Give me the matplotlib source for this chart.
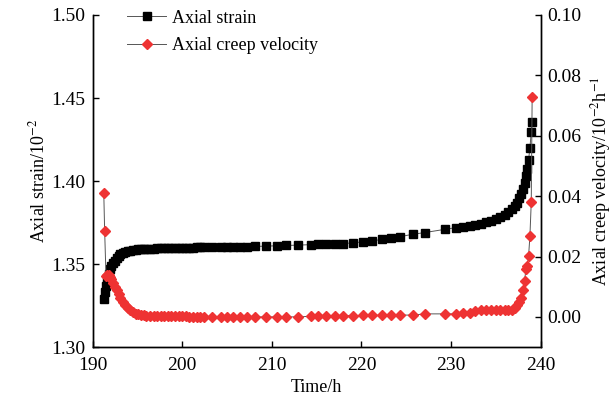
import matplotlib
matplotlib.use("Agg")
import matplotlib.pyplot as plt

plt.rcParams['font.family'] = ['Liberation Serif', 'DejaVu Serif']
plt.rcParams['mathtext.fontset'] = 'stix'

time_h = [191.25, 191.35, 191.5, 191.65, 191.8, 191.95, 192.1, 192.3, 192.5, 192.7,
          192.9, 193.1, 193.35, 193.6, 193.9, 194.2, 194.5, 194.8, 195.1, 195.4,
          195.7, 196.0, 196.4, 196.8, 197.2, 197.6, 198.0, 198.4, 198.8, 199.2,
          199.6, 200.0, 200.4, 200.8, 201.2, 201.6, 202.0, 202.4, 203.3, 204.3,
          205.0, 205.7, 206.4, 207.2, 208.1, 209.3, 210.6, 211.6, 212.9, 214.4,
          215.2, 216.1, 217.0, 217.9, 219.05, 220.2, 221.2, 222.3, 223.3, 224.3,
          225.7, 227.1, 229.3, 230.5, 231.3, 232.1, 232.7, 233.3, 233.9, 234.5,
          235.0, 235.5, 236.0, 236.4, 236.8, 237.1, 237.35, 237.6, 237.8, 238.0,
          238.2, 238.35, 238.5, 238.65, 238.8, 238.95, 239.05]

axial_strain = [1.3290, 1.3330, 1.3370, 1.3410, 1.3440, 1.3470, 1.3490, 1.3505, 1.3520, 1.3535,
                1.3548, 1.3558, 1.3566, 1.3572, 1.3577, 1.3581, 1.3584, 1.3586, 1.3588, 1.3589,
                1.3590, 1.3591, 1.3592, 1.3593, 1.3594, 1.3595, 1.3595, 1.3596, 1.3596, 1.3597,
                1.3597, 1.3598, 1.3598, 1.3599, 1.3599, 1.3600, 1.3600, 1.3600, 1.3601, 1.3602,
                1.3602, 1.3603, 1.3604, 1.3605, 1.3606, 1.3608, 1.3610, 1.3612, 1.3614, 1.3617,
                1.3619, 1.3620, 1.3621, 1.3623, 1.3628, 1.3634, 1.3639, 1.3649, 1.3655, 1.3665,
                1.3679, 1.3690, 1.3709, 1.3719, 1.3725, 1.3731, 1.3737, 1.3744, 1.3752, 1.3761,
                1.3772, 1.3783, 1.3798, 1.3812, 1.3830, 1.3850, 1.3870, 1.3895, 1.3922, 1.3955,
                1.3990, 1.4030, 1.4070, 1.4127, 1.4200, 1.4293, 1.4354]

creep_velocity = [0.0411, 0.0284, 0.0135, 0.0140, 0.0138, 0.0133, 0.0124, 0.0112, 0.0100, 0.0088,
                  0.0076, 0.0062, 0.0050, 0.0040, 0.0030, 0.0022, 0.0015, 0.0010, 0.0008, 0.0006,
                  0.0005, 0.0004, 0.0004, 0.0003, 0.0003, 0.0003, 0.0002, 0.0002, 0.0002, 0.0002,
                  0.0002, 0.0002, 0.0002, 0.0001, 0.0001, 0.0001, 0.0001, 0.0001, 0.0000, 0.0000,
                  0.0000, 0.0000, 0.0000, 0.0000, 0.0000, 0.0000, 0.0000, 0.0000, 0.0000, 0.0002,
                  0.0003, 0.0003, 0.0004, 0.0004, 0.0004, 0.0005, 0.0005, 0.0005, 0.0005, 0.0006,
                  0.0006, 0.0010, 0.0010, 0.0010, 0.0012, 0.0014, 0.0018, 0.0022, 0.0022, 0.0022,
                  0.0022, 0.0022, 0.0022, 0.0022, 0.0022, 0.0030, 0.0040, 0.0050, 0.0063, 0.0090,
                  0.0118, 0.0157, 0.0168, 0.0201, 0.0267, 0.0380, 0.0433, 0.0730]

creep_time_h = time_h[:-1] + [time_h[-1]]
creep_velocity = creep_velocity[:len(creep_time_h) - 1] + [creep_velocity[-1]]

fig = plt.figure(figsize=(6.13, 4.05), dpi=100)
ax = fig.add_axes([0.151, 0.143, 0.731, 0.820])
ax2 = ax.twinx()

l1, = ax.plot(time_h, axial_strain, color='#555555', lw=0.7, marker='s', ms=6,
              mfc='black', mec='black', label='Axial strain', zorder=3)
l2, = ax2.plot(creep_time_h, creep_velocity, color='#555555', lw=0.7, marker='D', ms=5.5,
               mfc='#ee3333', mec='#ee3333', label='Axial creep velocity', zorder=3)

ax.set_xlim(190, 240)
ax.set_ylim(1.30, 1.50)
ax2.set_ylim(-0.01, 0.10)
ax.set_xticks([190, 200, 210, 220, 230, 240])
ax.set_yticks([1.30, 1.35, 1.40, 1.45, 1.50])
ax.set_yticklabels(['1.30', '1.35', '1.40', '1.45', '1.50'])
ax2.set_yticks([0.00, 0.02, 0.04, 0.06, 0.08, 0.10])
ax2.set_yticklabels(['0.00', '0.02', '0.04', '0.06', '0.08', '0.10'])

for a in (ax, ax2):
    a.spines['top'].set_visible(False)
    for s in a.spines.values():
        s.set_linewidth(1.0)
    a.tick_params(direction='in', length=4, width=1.0, labelsize=14, pad=5)
ax.tick_params(axis='x', pad=7)

ax.set_xlabel('Time/h', fontsize=13, labelpad=4)
ax.set_ylabel('Axial strain/10$^{-2}$', fontsize=13, labelpad=2)
ax2.set_ylabel('Axial creep velocity/10$^{-2}$h$^{-1}$', fontsize=13, labelpad=5)

ax.legend(handles=[l1, l2], loc='upper left', bbox_to_anchor=(0.04, 1.065),
          frameon=False, fontsize=13, handlelength=2.2, handletextpad=0.3,
          labelspacing=0.6)

fig.savefig('out.png', dpi=100)
